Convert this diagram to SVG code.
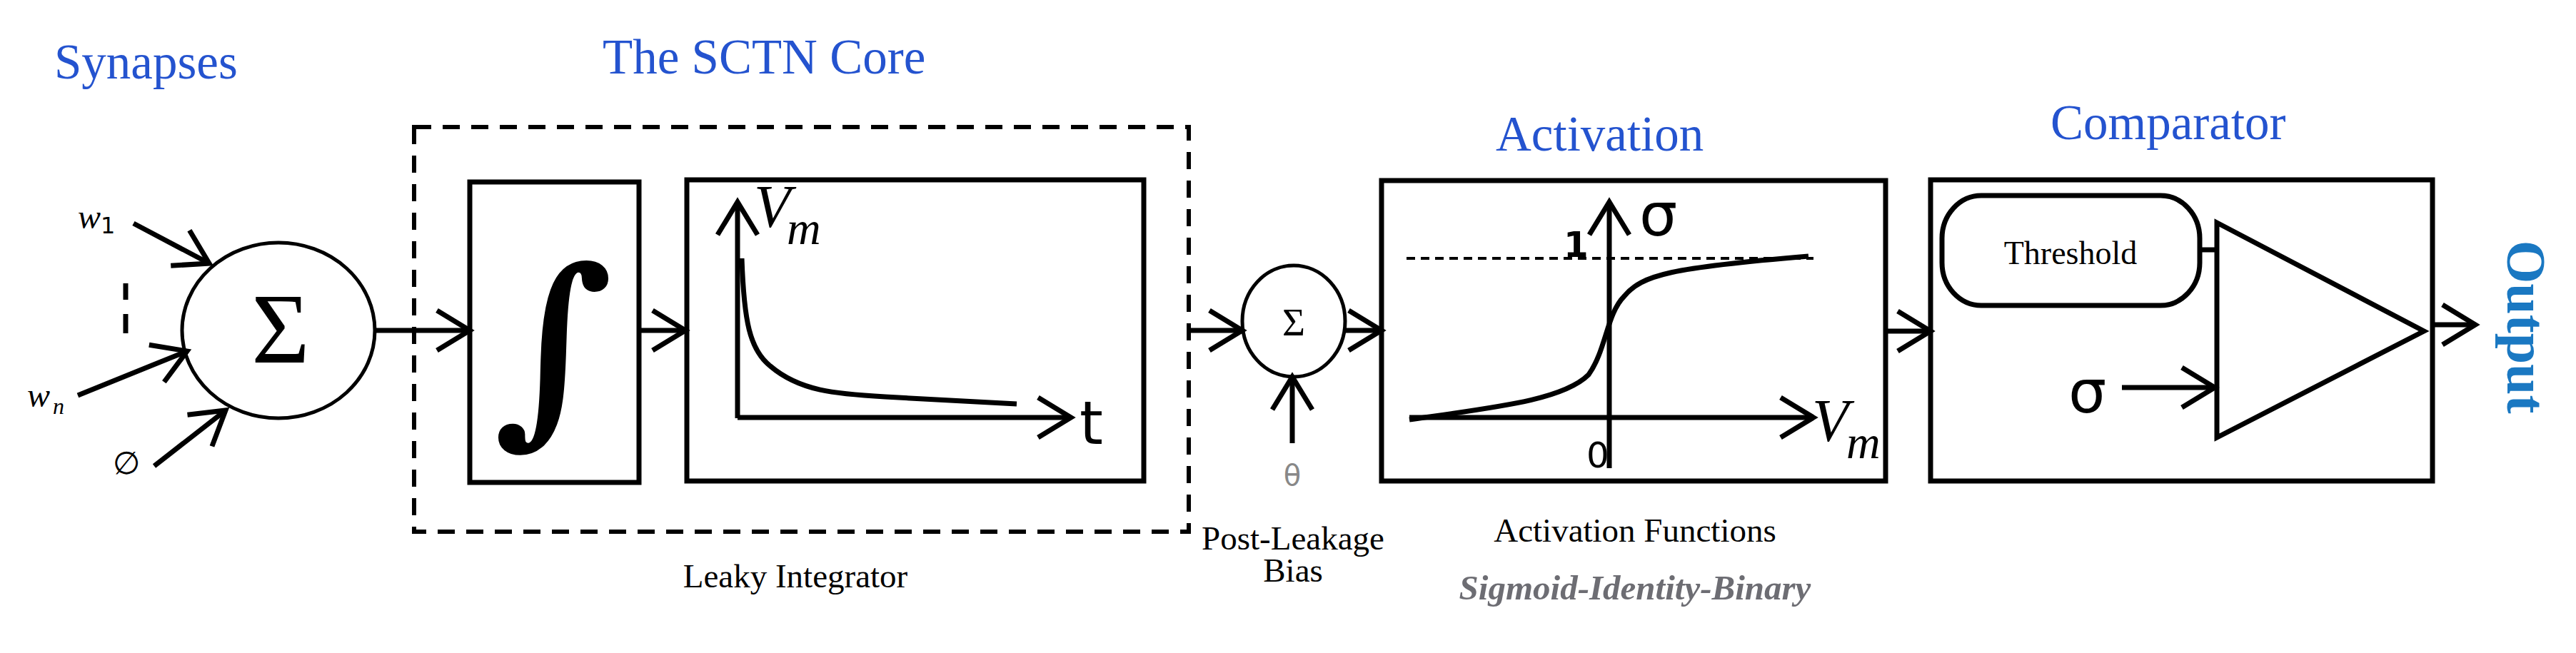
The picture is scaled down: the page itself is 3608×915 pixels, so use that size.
<svg xmlns="http://www.w3.org/2000/svg" width="3608" height="915" viewBox="0 0 3608 915">
<defs>
<marker id="ah" markerUnits="userSpaceOnUse" markerWidth="54" markerHeight="64" viewBox="0 0 54 64" refX="50" refY="32" orient="auto" overflow="visible">
<path d="M4,4 L50,32 L4,60" fill="none" stroke="#000" stroke-width="7"/>
</marker>
</defs>
<style>
.ln{stroke:#000;stroke-width:7;fill:none}
.bx{stroke:#000;stroke-width:7;fill:#fff}
.title{font-family:"Liberation Serif",serif;font-size:69px;fill:#2453cf}
.lbl{font-family:"Liberation Serif",serif;font-size:47px;fill:#000}
.sans{font-family:"DejaVu Sans",sans-serif;fill:#000}
.it{font-family:"Liberation Serif",serif;font-style:italic;fill:#000}
</style>
<rect width="3608" height="915" fill="#fff"/>
<text class="title" x="76" y="110">Synapses</text>
<text class="title" x="844" y="103">The SCTN Core</text>
<text class="title" x="2095" y="211">Activation</text>
<text class="title" x="2872" y="195">Comparator</text>

<g id="core">
<rect x="580" y="178" width="1085" height="567" fill="none" stroke="#000" stroke-width="6" stroke-dasharray="24,16"/>
<text class="lbl" x="1114" y="823" text-anchor="middle" font-size="49">Leaky Integrator</text>
</g>

<g id="synapse-sum">
<ellipse cx="390" cy="463" rx="135" ry="123" fill="#fff" stroke="#000" stroke-width="5"/>
<text x="393" y="508" font-family="Liberation Serif,serif" font-size="140" text-anchor="middle">Σ</text>
<text class="it" x="109" y="320" font-size="48">w</text><text class="sans" x="141" y="327" font-size="32">1</text>
<text class="it" x="38" y="570" font-size="48">w</text><text class="it" x="74" y="580" font-size="32">n</text>
<text class="sans" x="158" y="664" font-size="44">∅</text>
<line x1="176" y1="397" x2="176" y2="420" class="ln" stroke-width="6"/>
<line x1="176" y1="440" x2="176" y2="467" class="ln" stroke-width="6"/>
</g>

<g id="integrator">
<rect x="658" y="255" width="237" height="421" class="bx"/>
<text x="775" y="585" font-family="DejaVu Serif,serif" font-size="290" font-weight="bold" text-anchor="middle">∫</text>
</g>

<g id="leak-graph">
<rect x="962" y="252" width="640" height="422" class="bx" stroke-width="9"/>
<path d="M1039,362 C1042,450 1050,490 1079,513 C1120,548 1170,552 1240,556 L1424,566" class="ln" stroke-width="14"/>
<text class="it" x="1056" y="318" font-size="84">V</text><text class="it" x="1102" y="342" font-size="66">m</text>
<text class="sans" x="1512" y="622" font-size="84">t</text>
</g>

<g id="bias-sum">
<ellipse cx="1812" cy="450" rx="72" ry="78" fill="#fff" stroke="#000" stroke-width="5"/>
<text x="1812" y="470" font-family="Liberation Serif,serif" font-size="55" text-anchor="middle">Σ</text>
<text x="1810" y="680" font-family="DejaVu Sans,sans-serif" font-size="40" fill="#888" text-anchor="middle">θ</text>
<text class="lbl" x="1811" y="770" text-anchor="middle" font-size="44">Post-Leakage</text>
<text class="lbl" x="1811" y="815" text-anchor="middle" font-size="44">Bias</text>
</g>

<g id="activation">
<rect x="1935" y="253" width="706" height="421" class="bx"/>
<line x1="1970" y1="362" x2="2540" y2="362" stroke="#000" stroke-width="4" stroke-dasharray="12,8"/>
<path d="M1974,588 C2100,570 2190,560 2225,525 C2250,490 2250,440 2275,415 C2300,385 2340,375 2533,359" class="ln" stroke-width="14"/>
<text class="sans" x="2190" y="360" font-size="50" font-weight="bold">1</text>
<text class="sans" x="2296" y="330" font-size="84">σ</text>
<text class="sans" x="2222" y="655" font-size="50">0</text>
<text class="it" x="2538" y="618" font-size="84">V</text><text class="it" x="2586" y="642" font-size="66">m</text>
<text class="lbl" x="2290" y="759" text-anchor="middle" font-size="48">Activation Functions</text>
<text x="2290" y="840" font-family="Liberation Serif,serif" font-size="49" font-style="italic" font-weight="bold" fill="#6d6d73" text-anchor="middle">Sigmoid-Identity-Binary</text>
</g>

<g id="comparator">
<rect x="2704" y="252" width="703" height="422" class="bx"/>
<rect x="2720" y="274" width="361" height="154" rx="55" ry="60" class="bx"/>
<text x="2900" y="370" font-family="Liberation Serif,serif" font-size="46" text-anchor="middle">Threshold</text>
<line x1="3081" y1="350" x2="3105" y2="350" class="ln" stroke-width="5"/>
<polygon points="3105,312 3395,464 3105,613" class="bx"/>
<text class="sans" x="2897" y="578" font-size="84">σ</text>
</g>

<g id="output">
<text transform="translate(3512,458) rotate(90)" x="0" y="0" font-family="Liberation Serif,serif" font-size="78" font-weight="bold" fill="#1a78c2" text-anchor="middle">Output</text>
</g>

<g id="connectors">
<line x1="187" y1="313" x2="293" y2="369" class="ln" marker-end="url(#ah)"/>
<line x1="109" y1="554" x2="262" y2="492" class="ln" marker-end="url(#ah)"/>
<line x1="216" y1="653" x2="316" y2="575" class="ln" marker-end="url(#ah)"/>
<line x1="525" y1="463" x2="658" y2="463" class="ln" marker-end="url(#ah)"/>
<line x1="895" y1="463" x2="960" y2="463" class="ln" marker-end="url(#ah)"/>
<line x1="1033" y1="586" x2="1033" y2="283" class="ln" stroke-width="5" marker-end="url(#ah)"/>
<line x1="1033" y1="585" x2="1500" y2="585" class="ln" stroke-width="6" marker-end="url(#ah)"/>
<line x1="1665" y1="463" x2="1740" y2="463" class="ln" marker-end="url(#ah)"/>
<line x1="1810" y1="621" x2="1810" y2="528" class="ln" stroke-width="5" marker-end="url(#ah)"/>
<line x1="1884" y1="463" x2="1935" y2="463" class="ln" marker-end="url(#ah)"/>
<line x1="2254" y1="656" x2="2254" y2="283" class="ln" stroke-width="5" marker-end="url(#ah)"/>
<line x1="1974" y1="585" x2="2540" y2="585" class="ln" stroke-width="6" marker-end="url(#ah)"/>
<line x1="2641" y1="464" x2="2704" y2="464" class="ln" marker-end="url(#ah)"/>
<line x1="2972" y1="543" x2="3102" y2="543" class="ln" marker-end="url(#ah)"/>
<line x1="3410" y1="455" x2="3467" y2="455" class="ln" marker-end="url(#ah)"/>
</g>
</svg>
